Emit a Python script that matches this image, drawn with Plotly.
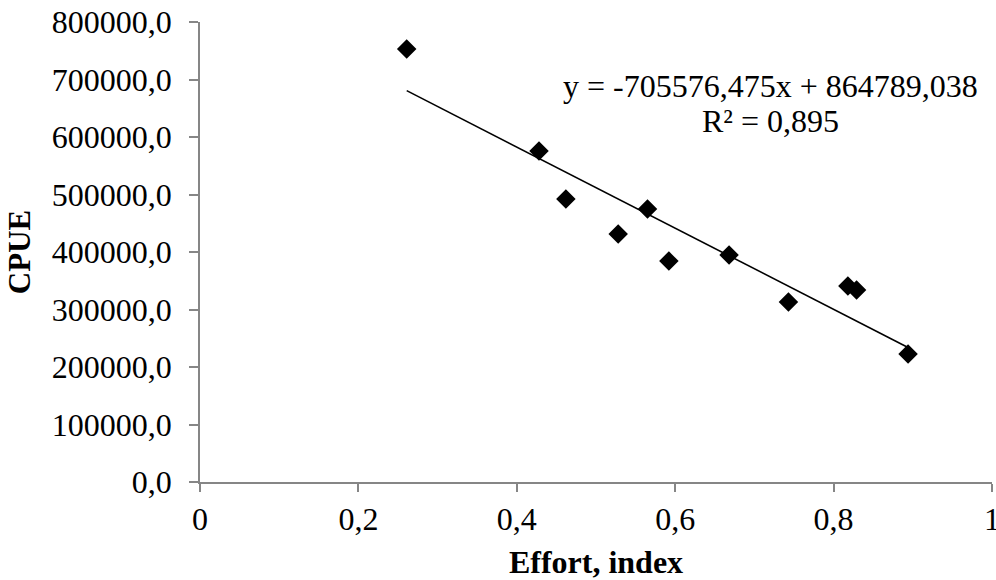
import plotly.graph_objects as go

# Fishing effort index and catch per unit effort
effort = [0.261, 0.428, 0.462, 0.528, 0.565, 0.592, 0.668, 0.743, 0.818, 0.829, 0.894]
cpue = [753000, 575700, 492200, 431300, 474800, 384300, 394800, 313000, 340900, 333900, 222600]

# Linear trend coefficients
slope = -705576.475
intercept = 864789.038
r_squared = 0.895

x_ticks = [0, 0.2, 0.4, 0.6, 0.8, 1]
y_ticks = [0, 100000, 200000, 300000, 400000, 500000, 600000, 700000, 800000]

FONT = "Liberation Serif, Times New Roman, serif"
AXIS_GREY = "#868686"
TXT = 32

x_line = [min(effort), max(effort)]
y_line = [slope * v + intercept for v in x_line]

fig = go.Figure()
fig.add_trace(go.Scatter(
    x=x_line, y=y_line, mode="lines",
    line=dict(color="black", width=1.6),
    hoverinfo="skip", showlegend=False,
))
fig.add_trace(go.Scatter(
    x=effort, y=cpue, mode="markers",
    marker=dict(symbol="diamond", size=15, color="black", line=dict(width=0)),
    showlegend=False,
))

eq_line = f"y = {slope:.3f}x + {intercept:.3f}".replace(".", ",")
r2_line = f"R² = {r_squared:.3f}".replace(".", ",")
for text, yv in [(eq_line, 688000), (r2_line, 627000)]:
    fig.add_annotation(
        x=0.72, y=yv, xref="x", yref="y",
        text=text, showarrow=False, align="center",
        xanchor="center", yanchor="middle",
        font=dict(family=FONT, size=TXT, color="black"),
    )

fig.update_layout(
    width=996, height=580,
    margin=dict(l=200, r=4, t=22, b=98),
    paper_bgcolor="white", plot_bgcolor="white",
    separators=", ",
    font=dict(family=FONT, size=TXT, color="black"),
)
fig.update_xaxes(
    range=[0, 1], tickvals=x_ticks,
    showgrid=False, zeroline=False,
    showline=True, linecolor=AXIS_GREY, linewidth=1.5,
    ticks="outside", tickcolor=AXIS_GREY, ticklen=8, tickwidth=1.5,
    ticklabeloverflow="allow", automargin=False,
    tickfont=dict(family=FONT, size=TXT, color="black"),
    title=dict(text="<b>Effort, index</b>", standoff=16,
               font=dict(family=FONT, size=TXT, color="black")),
)
fig.update_yaxes(
    range=[0, 800000], tickvals=y_ticks, tickformat=".1f",
    showgrid=False, zeroline=False,
    showline=True, linecolor=AXIS_GREY, linewidth=1.5,
    ticks="outside", tickcolor=AXIS_GREY, ticklen=9, tickwidth=1.5,
    ticklabelstandoff=11, automargin=False,
    tickfont=dict(family=FONT, size=TXT, color="black"),
    title=dict(text="<b>CPUE</b>", standoff=12,
               font=dict(family=FONT, size=31, color="black")),
)

fig.write_html("out.html")
